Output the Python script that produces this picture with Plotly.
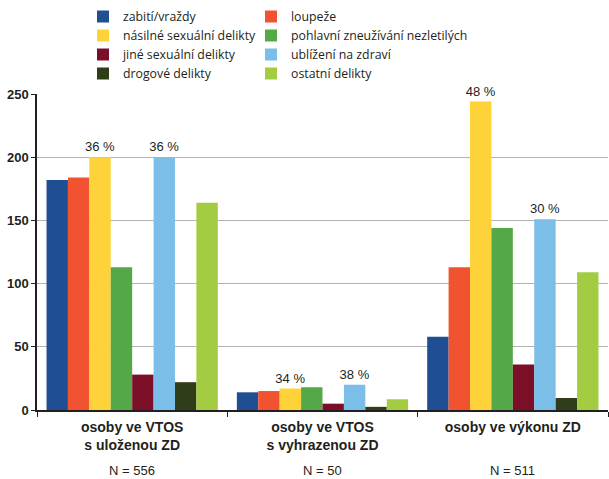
import plotly.graph_objects as go

categories = ["osoby ve VTOS<br>s uloženou ZD", "osoby ve VTOS<br>s vyhrazenou ZD", "osoby ve výkonu ZD"]
n_labels = ["N = 556", "N = 50", "N = 511"]

series_names = ["zabití/vraždy", "loupeže", "násilné sexuální delikty", "pohlavní zneužívání nezletilých",
                "jiné sexuální delikty", "ublížení na zdraví", "drogové delikty", "ostatní delikty"]
zabiti = [182, 14, 58]
loupeze = [184, 15, 113]
nasilne = [200, 17, 244]
pohlavni = [113, 18, 144]
jine = [28, 5, 36]
ublizeni = [200, 20, 151]
drogove = [22, 2.5, 9.5]
ostatni = [164, 8.5, 109]
values = [zabiti, loupeze, nasilne, pohlavni, jine, ublizeni, drogove, ostatni]

pct_nasilne = ["36 %", "34 %", "48 %"]
pct_ublizeni = ["36 %", "38 %", "30 %"]

colors = ["#1f4f92", "#f15331", "#fed239", "#55a847", "#7b0f27", "#7bbfe9", "#2f3d18", "#a4cc42"]
legend_ids = ["legend", "legend2", "legend", "legend2", "legend", "legend2", "legend", "legend2"]
texts = [None, None, pct_nasilne, None, None, pct_ublizeni, None, None]

fig = go.Figure()
for name, vals, col, lg, tx in zip(series_names, values, colors, legend_ids, texts):
    fig.add_trace(go.Bar(
        x=categories, y=vals, name=name, marker=dict(color=col, line=dict(width=0)),
        legend=lg,
        text=tx, textposition="outside" if tx else "none",
        textfont=dict(family="Liberation Sans, Arial", size=13, color="#231f20"),
        constraintext="none", cliponaxis=False,
    ))

for cat, nl in zip(categories, n_labels):
    fig.add_annotation(x=cat, y=-0.193, xref="x", yref="paper", text=nl, showarrow=False,
                       font=dict(family="Liberation Sans, Arial", size=13, color="#231f20"),
                       yanchor="middle")

legend_font = dict(family="Open Sans, Liberation Sans, Arial", size=12.3, color="#231f20")
fig.update_layout(
    width=609, height=479,
    margin=dict(l=37, r=1, t=94, b=69, autoexpand=False),
    paper_bgcolor="white", plot_bgcolor="white",
    barmode="group", bargap=0.1, bargroupgap=0,
    showlegend=True,
    legend=dict(x=(83-37)/571, y=408/316, xanchor="left", yanchor="top",
                font=legend_font, bgcolor="rgba(0,0,0,0)", traceorder="normal", itemclick=False),
    legend2=dict(x=(251-37)/571, y=408/316, xanchor="left", yanchor="top",
                 font=legend_font, bgcolor="rgba(0,0,0,0)", traceorder="normal", itemclick=False),
    xaxis=dict(showline=True, linecolor="#231f20", linewidth=1.5, ticks="outside", tickson="boundaries",
               ticklen=5, tickcolor="#231f20", tickangle=0, ticklabelstandoff=3,
               tickfont=dict(family="Liberation Sans, Arial", size=14, color="#231f20", weight="bold")),
    yaxis=dict(range=[0, 250], dtick=50, showline=True, linecolor="#231f20", linewidth=1.5,
               ticks="outside", ticklen=4, tickcolor="#231f20",
               gridcolor="#b3b3b3", gridwidth=1.2, zeroline=False,
               tickfont=dict(family="Liberation Sans, Arial", size=13, color="#231f20", weight="bold")),
)

fig.write_html("out.html", config={"displayModeBar": False},
               post_script="document.body.style.margin='0';document.body.style.padding='0';")
